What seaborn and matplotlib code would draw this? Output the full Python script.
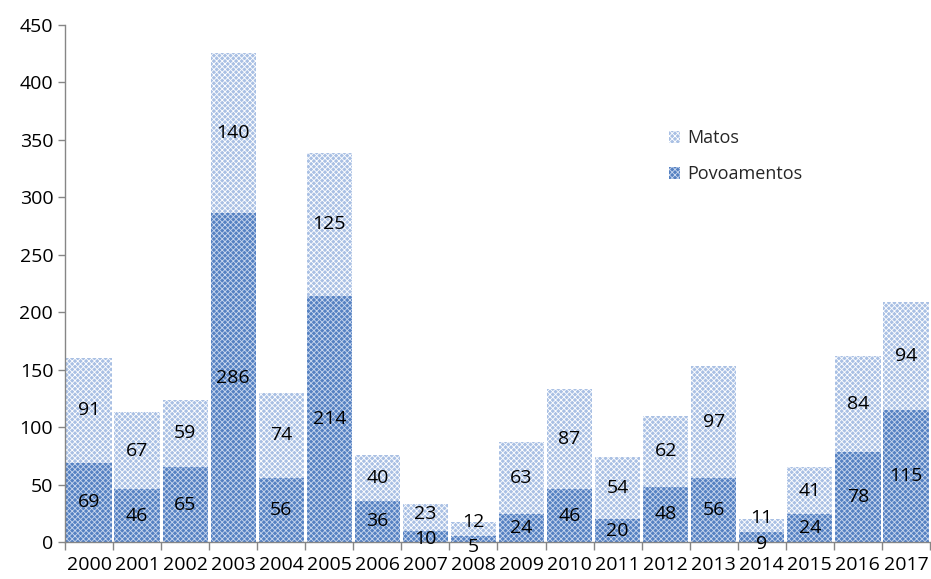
import matplotlib
matplotlib.use("Agg")
import matplotlib.pyplot as plt
import numpy as np
import pandas as pd
import seaborn as sns

years = [str(y) for y in range(2000, 2018)]
povoamentos = [69, 46, 65, 286, 56, 214, 36, 10, 5, 24, 46, 20, 48, 56, 9, 24, 78, 115]
matos = [91, 67, 59, 140, 74, 125, 40, 23, 12, 63, 87, 54, 62, 97, 11, 41, 84, 94]
y_ticks = [0, 50, 100, 150, 200, 250, 300, 350, 400, 450]

light_blue = "#a9c0e4"
dark_blue = "#5581c2"

sns.set_theme(style="white")
plt.rcParams["font.family"] = ["Open Sans", "DejaVu Sans"]
plt.rcParams["hatch.linewidth"] = 0.6

df = pd.DataFrame({"ano": years, "Povoamentos": povoamentos, "Matos": matos})
df["total"] = df["Povoamentos"] + df["Matos"]

fig = plt.figure(figsize=(9.31, 5.79), dpi=100)
ax = fig.add_axes([65 / 931, 37 / 579, 865 / 931, 517 / 579])

sns.barplot(data=df, x="ano", y="total", color=light_blue, saturation=1,
            width=0.94, ax=ax, label="Matos", linewidth=0,
            edgecolor="white", hatch="xxxxxx")
sns.barplot(data=df, x="ano", y="Povoamentos", color=dark_blue, saturation=1,
            width=0.94, ax=ax, label="Povoamentos", linewidth=0,
            edgecolor="#c9d7ee", hatch="xxxxxx")

# valores dentro das barras; afasta os rótulos quando o segmento é pequeno
min_gap = 22
for i, row in df.iterrows():
    y_pov = row["Povoamentos"] / 2
    y_mat = row["Povoamentos"] + row["Matos"] / 2
    if y_mat - y_pov < min_gap:
        mid = (y_mat + y_pov) / 2
        y_pov = mid - min_gap / 2
        y_mat = mid + min_gap / 2
    ax.text(i, y_pov, str(row["Povoamentos"]), ha="center", va="center",
            fontsize=14, color="black", clip_on=False)
    ax.text(i, y_mat, str(row["Matos"]), ha="center", va="center",
            fontsize=14, color="black")

ax.set_xlim(-0.5, len(years) - 0.5)
ax.set_ylim(0, 450)
ax.set_yticks(y_ticks)
ax.set_xlabel("")
ax.set_ylabel("")

ax.set_xticks(np.arange(-0.5, len(years), 1), minor=True)
ax.tick_params(axis="x", which="major", length=0, labelsize=14, pad=10,
               labelcolor="black")
ax.tick_params(axis="x", which="minor", length=6, width=1, color="#868686", bottom=True)
ax.tick_params(axis="y", length=5, width=1, color="#868686", left=True, labelsize=14,
               labelcolor="black")

for s in ["top", "right"]:
    ax.spines[s].set_visible(False)
for s in ["left", "bottom"]:
    ax.spines[s].set_color("#868686")
    ax.spines[s].set_linewidth(1)

ax.legend(loc="upper left", bbox_to_anchor=(0.68, 0.83), frameon=False,
          fontsize=13, labelspacing=1.0, handlelength=0.6, handleheight=0.6,
          handletextpad=0.4)

fig.savefig("out.png", dpi=100)
plt.close()
